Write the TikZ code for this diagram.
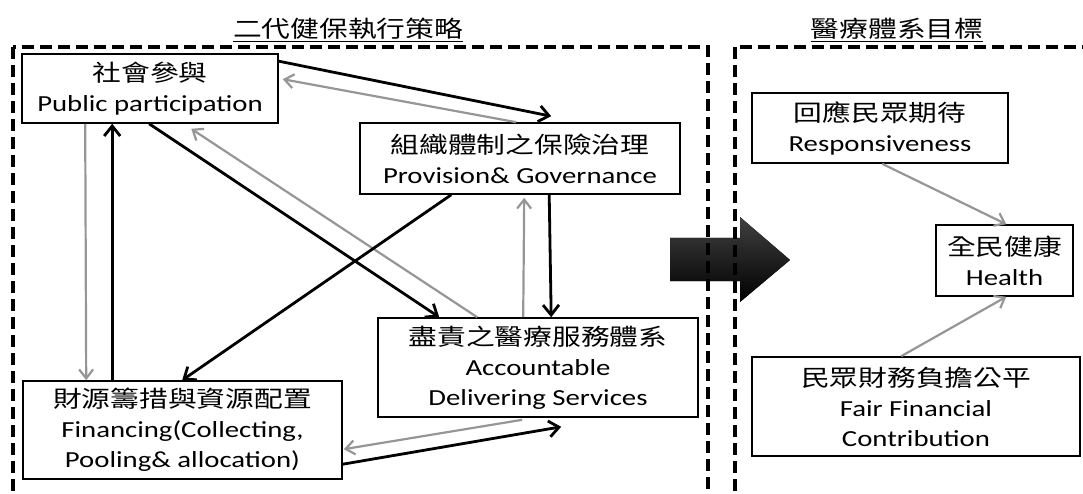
\documentclass[tikz,border=0pt]{standalone}
\usepackage{fontspec}
\setmainfont{Carlito}[FakeStretch=1.25]
\newfontfamily\cjk{Noto Sans CJK TC}[FakeStretch=1.25]
\usetikzlibrary{arrows.meta}
\definecolor{gl}{RGB}{150,150,150}
\tikzset{
  box/.style={draw=black, line width=1.6pt, align=center, inner sep=2pt, font=\fontsize{23}{30}\selectfont},
  ttl/.style={inner sep=1pt, font=\fontsize{23}{30}\selectfont\cjk},
  blk/.style={line width=2.8pt, color=black, -{Straight Barb[length=10pt,width=16pt]}},
  gry/.style={line width=2.2pt, color=gl, -{Straight Barb[length=9pt,width=14pt]}},
  frame/.style={line width=3.4pt, dash pattern=on 12pt off 6pt}
}

\begin{document}
\begin{tikzpicture}
\useasboundingbox (0pt,0pt) rectangle (1083pt,-494pt);
\fill [top color=black!75, bottom color=black] (670pt,-238pt) -- (740pt,-238pt) -- (740pt,-217pt) -- (790pt,-260pt) -- (740pt,-302pt) -- (740pt,-281pt) -- (670pt,-281pt) -- cycle;
\draw [frame] (13pt,-47pt) rectangle (708pt,-496.5pt);
\draw [frame] (735pt,-47pt) rectangle (1095pt,-496.5pt);
\node (t1) [ttl] at (348pt, -30pt) {\underline{二代健保執行策略}};
\node (t2) [ttl] at (897pt, -30pt) {\underline{醫療體系目標}};
\node (pp) [box, minimum width=256pt, minimum height=69pt] at (150pt, -88.5pt) {{\cjk 社會參與}\\Public participation};
\node (pg) [box, minimum width=320pt, minimum height=71pt] at (520pt, -158.5pt) {{\cjk 組織體制之保險治理}\\Provision\& Governance};
\node (ad) [box, minimum width=320pt, minimum height=99pt] at (538pt, -367.5pt) {{\cjk 盡責之醫療服務體系}\\Accountable\\Delivering Services};
\node (fc) [box, minimum width=319pt, minimum height=98pt] at (182.5pt, -430pt) {{\cjk 財源籌措與資源配置}\\Financing(Collecting,\\Pooling\& allocation)};
\node (resp) [box, minimum width=256pt, minimum height=70pt] at (880pt, -128pt) {{\cjk 回應民眾期待}\\Responsiveness};
\node (hl) [box, minimum width=137pt, minimum height=71pt] at (1004.5pt, -260.5pt) {{\cjk 全民健康}\\Health};
\node (fair) [box, minimum width=328pt, minimum height=99pt] at (916pt, -406.5pt) {{\cjk 民眾財務負擔公平}\\Fair Financial\\Contribution};
\draw [blk] ([yshift=-8pt]pp.north east) to ([shift={(192pt,6pt)}]pg.north west);
\draw [gry] ([xshift=157pt]pg.north west) to ([shift={(4pt,-26pt)}]pp.north east);
\draw [blk] ([xshift=128pt]pp.south west) to ([xshift=62pt]ad.north west);
\draw [gry] ([xshift=100pt]ad.north west) to ([shift={(170pt,-5pt)}]pp.south west);
\draw [blk] ([xshift=92pt]pg.south west) to ([xshift=160pt]fc.north west);
\draw [gry] ([xshift=146pt]ad.north west) to ([shift={(165pt,-3pt)}]pg.south west);
\draw [blk] ([xshift=190pt]pg.south west) to ([xshift=174pt]ad.north west);
\draw [gry] ([xshift=64pt]pp.south west) to ([xshift=64pt]fc.north west);
\draw [blk] ([xshift=90pt]fc.north west) to ([xshift=91pt]pp.south west);
\draw [gry] ([shift={(145pt,-2pt)}]ad.south west) to ([shift={(1pt,-69pt)}]fc.north east);
\draw [blk] ([yshift=-84pt]fc.north east) to ([shift={(184pt,-9pt)}]ad.south west);
\draw [gry] ([xshift=131pt]resp.south west) to ([xshift=71pt]hl.north west);
\draw [gry] ([xshift=150pt]fair.north west) to ([xshift=71pt]hl.south west);
\end{tikzpicture}
\end{document}
